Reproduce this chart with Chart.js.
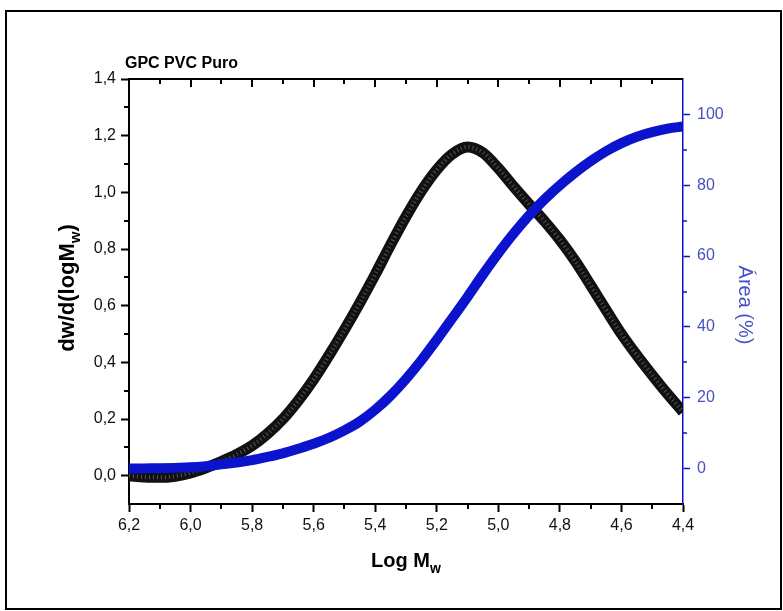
<!DOCTYPE html>
<html>
<head>
<meta charset="utf-8">
<script src="https://cdn.jsdelivr.net/npm/chart.js@4.4.0/dist/chart.umd.min.js"></script>
<style>
  html, body { margin: 0; padding: 0; background: #fff; }
  #wrap { width: 783px; height: 611px; position: relative; }
</style>
</head>
<body>
<div id="wrap"><canvas id="gpc" width="783" height="611"></canvas></div>
<script>
// Log Mw (x), read every 0.05
const logMw = [6.20, 6.15, 6.10, 6.05, 6.00, 5.95, 5.90, 5.85, 5.80, 5.75, 5.70, 5.65, 5.60,
  5.55, 5.50, 5.45, 5.40, 5.35, 5.30, 5.25, 5.20, 5.15, 5.10, 5.05, 5.00, 4.95, 4.90, 4.85,
  4.80, 4.75, 4.70, 4.65, 4.60, 4.55, 4.50, 4.45, 4.40];
// dw/d(logMw), left axis
const dwdlog = [0.000, -0.005, -0.006, -0.002, 0.010, 0.028, 0.050, 0.075, 0.106, 0.148, 0.200,
  0.265, 0.340, 0.425, 0.515, 0.610, 0.710, 0.815, 0.915, 1.005, 1.080, 1.135, 1.160, 1.140,
  1.085, 1.020, 0.958, 0.898, 0.832, 0.757, 0.672, 0.585, 0.500, 0.425, 0.355, 0.288, 0.225];
// cumulative area (%), right axis
const area = [0, 0.05, 0.1, 0.2, 0.35, 0.7, 1.2, 1.7, 2.4, 3.3, 4.3, 5.6, 7.0, 8.7, 10.8, 13.3,
  16.6, 20.6, 25.3, 30.6, 36.4, 42.4, 48.5, 54.8, 60.8, 66.4, 71.5, 76.0, 80.0, 83.6, 86.8,
  89.6, 91.9, 93.7, 95.0, 96.0, 96.6];

const xTicks = [6.2, 6.0, 5.8, 5.6, 5.4, 5.2, 5.0, 4.8, 4.6, 4.4];
const leftTicks = [0, 0.2, 0.4, 0.6, 0.8, 1.0, 1.2, 1.4];
const rightTicks = [0, 20, 40, 60, 80, 100];

const FONT = '"Liberation Sans", Arial, sans-serif';
const BLUE = '#0b14cc';
const BLUE_TXT = '#4650c4';

Chart.defaults.font.family = FONT;

const pts = ys => logMw.map((x, i) => ({ x: x, y: ys[i] }));
const comma = v => Number(v).toFixed(1).replace('.', ',');

// text with a subscript part, centred on (cx, cy)
function drawSub(ctx, parts, cx, cy, rot, size, color) {
  const big = 'bold ' + size + 'px ' + FONT;
  const small = 'bold ' + Math.round(size * 0.7) + 'px ' + FONT;
  ctx.save();
  ctx.translate(cx, cy);
  ctx.rotate(rot);
  ctx.fillStyle = color;
  ctx.textBaseline = 'alphabetic';
  ctx.textAlign = 'left';
  let total = 0;
  const w = parts.map(p => { ctx.font = p.sub ? small : big; const m = ctx.measureText(p.t).width; total += m; return m; });
  let x = -total / 2;
  const base = size * 0.36;
  parts.forEach((p, i) => {
    ctx.font = p.sub ? small : big;
    ctx.fillText(p.t, x, p.sub ? base + size * 0.28 : base);
    x += w[i];
  });
  ctx.restore();
}

const extras = {
  id: 'extras',
  afterDraw(chart) {
    const { ctx, chartArea: a, scales } = chart;
    const sx = scales.x, yl = scales.y, yr = scales.y1;
    ctx.save();
    ctx.strokeStyle = '#000';
    ctx.lineWidth = 2;
    // outer frame
    ctx.strokeRect(6, 11, 775, 598);
    // top axis with inward ticks
    ctx.beginPath();
    ctx.moveTo(a.left, a.top); ctx.lineTo(a.right, a.top);
    ctx.stroke();
    for (let k = 45; k <= 61; k++) {
      const px = Math.round(sx.getPixelForValue(k / 10));
      const major = k % 2 === 0;
      ctx.beginPath();
      ctx.moveTo(px, a.top); ctx.lineTo(px, a.top + (major ? 8 : 5));
      ctx.stroke();
      if (!major) {
        ctx.beginPath();
        ctx.moveTo(px, a.bottom); ctx.lineTo(px, a.bottom + 5);
        ctx.stroke();
      }
    }
    // left minor ticks
    for (let k = 1; k <= 13; k += 2) {
      const py = Math.round(yl.getPixelForValue(k / 10));
      ctx.beginPath();
      ctx.moveTo(a.left, py); ctx.lineTo(a.left - 5, py);
      ctx.stroke();
    }
    // right minor ticks
    ctx.strokeStyle = BLUE;
    ctx.lineWidth = 1.5;
    for (let k = 10; k <= 90; k += 20) {
      const py = Math.round(yr.getPixelForValue(k));
      ctx.beginPath();
      ctx.moveTo(a.right, py); ctx.lineTo(a.right + 4, py);
      ctx.stroke();
    }
    ctx.restore();

    // titles
    ctx.save();
    ctx.fillStyle = '#000';
    ctx.font = 'bold 16px ' + FONT;
    ctx.textBaseline = 'middle';
    ctx.textAlign = 'left';
    ctx.fillText('GPC PVC Puro', 125, 64);
    ctx.restore();
    drawSub(ctx, [{ t: 'dw/d(logM' }, { t: 'w', sub: true }, { t: ')' }], 66, 288, -Math.PI / 2, 22, '#000');
    drawSub(ctx, [{ t: 'Log M' }, { t: 'w', sub: true }], 406, 560, 0, 20, '#000');
    ctx.save();
    ctx.translate(745, 305);
    ctx.rotate(Math.PI / 2);
    ctx.fillStyle = BLUE_TXT;
    ctx.font = '20px ' + FONT;
    ctx.textAlign = 'center';
    ctx.textBaseline = 'middle';
    ctx.fillText('Área (%)', 0, 0);
    ctx.restore();
  }
};

new Chart(document.getElementById('gpc'), {
  type: 'line',
  data: {
    datasets: [
      {
        label: 'Área (%)',
        data: pts(area),
        yAxisID: 'y1',
        borderColor: BLUE,
        borderWidth: 10,
        cubicInterpolationMode: 'monotone',
        pointRadius: 0,
        order: 0
      },
      {
        label: 'hatch',
        data: pts(dwdlog),
        yAxisID: 'y',
        borderColor: 'rgba(140,140,140,0.55)',
        borderWidth: 4,
        borderDash: [1, 3],
        cubicInterpolationMode: 'monotone',
        pointRadius: 0,
        order: 1
      },
      {
        label: 'dw/d(logMw)',
        data: pts(dwdlog),
        yAxisID: 'y',
        borderColor: '#111',
        borderWidth: 11,
        cubicInterpolationMode: 'monotone',
        pointRadius: 0,
        order: 2
      }
    ]
  },
  options: {
    responsive: false,
    animation: false,
    layout: { padding: { top: 79, left: 0, right: 0, bottom: 0 } },
    plugins: { legend: { display: false }, tooltip: { enabled: false } },
    scales: {
      x: {
        type: 'linear',
        position: 'bottom',
        reverse: true,
        min: 4.4,
        max: 6.2,
        afterBuildTicks: s => { s.ticks = xTicks.map(v => ({ value: v })); },
        afterFit: s => { s.height = 107; },
        ticks: { callback: comma, font: { size: 16 }, color: '#111', padding: 4, maxRotation: 0, autoSkip: false },
        grid: { drawOnChartArea: false, tickLength: 8, tickWidth: 2, tickColor: '#000' },
        border: { color: '#000', width: 2 }
      },
      y: {
        position: 'left',
        min: -0.1,
        max: 1.4,
        afterBuildTicks: s => { s.ticks = leftTicks.map(v => ({ value: v })); },
        afterFit: s => { s.width = 129; },
        ticks: { callback: comma, font: { size: 16 }, color: '#111', padding: 5 },
        grid: { drawOnChartArea: false, tickLength: 8, tickWidth: 2, tickColor: '#000' },
        border: { color: '#000', width: 2 }
      },
      y1: {
        position: 'right',
        min: -10,
        max: 110,
        afterBuildTicks: s => { s.ticks = rightTicks.map(v => ({ value: v })); },
        afterFit: s => { s.width = 100; },
        ticks: { font: { size: 16 }, color: BLUE_TXT, padding: 7 },
        grid: { drawOnChartArea: false, tickLength: 7, tickWidth: 1.5, tickColor: BLUE },
        border: { color: BLUE, width: 1.5 }
      }
    }
  },
  plugins: [extras]
});
</script>
</body>
</html>
